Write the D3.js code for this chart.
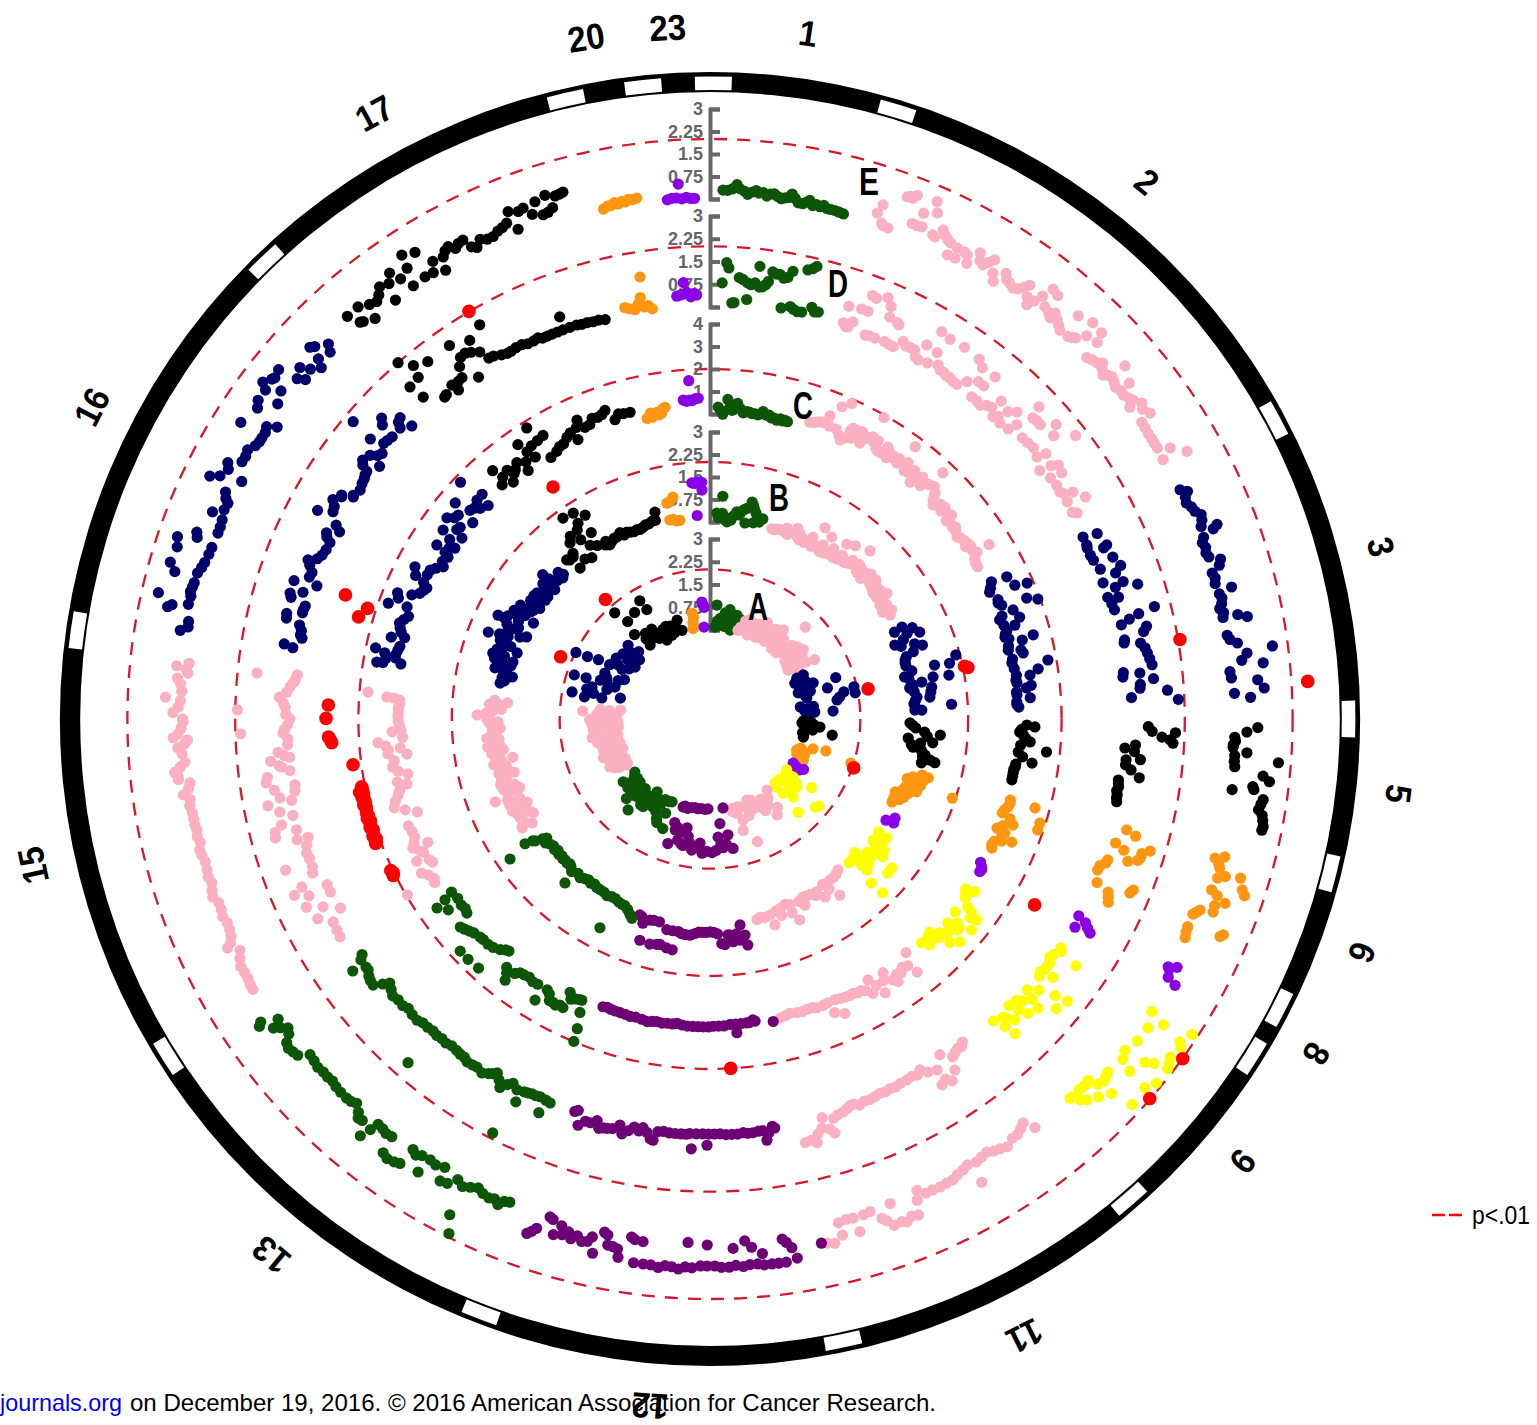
<!DOCTYPE html>
<html>
<head>
<meta charset="utf-8">
<script src="https://cdn.jsdelivr.net/npm/d3@7"></script>
<style>
  html, body { margin: 0; padding: 0; background: #fff; overflow: hidden; }
  text { font-family: "Liberation Sans", Arial, sans-serif; }
</style>
</head>
<body>
<svg class="chart"></svg>
<script>
// chromosomes clockwise round the ring, positions in ring degrees
var chromNames = ["1","2","3","5","6","8","9","11","12","13","15","16","17","20","23"];
var chromStart = [0.3,17,62,90,104,117,122,139,168,201,238,278,316,347,354];
var chromColors = ["#0d5507","#fbb0c2","#00006a","#000000","#ff9612","#8a00e6","#ffff00","#fbb0c2",
                   "#6e0076","#0d5507","#fbb0c2","#00006a","#000000","#ff9612","#8a00e6"];

var ticks3 = [0,0.75,1.5,2.25,3];
var ticks4 = [0,1,2,3,4];
var pLine = 2;

// [position, -log10 p], one line per chromosome
var trackE = [
[1.4,.3],[1.9,.3],[2.4,.35],[2.9,.5],[3.2,.38],[3.7,.3],[4.1,.2],[4.5,.28],[5,.35],[5.3,.27],[5.8,.3],[6.2,.2],[6.6,.28],[7,.3],[7.4,.23],[7.8,.17],[8.2,.22],[8.6,.25],[8.9,.38],[9.3,.25],[9.7,.12],[10.2,.12],[10.6,.2],[10.9,.27],[11.3,.12],[11.7,.18],[12.1,.13],[12.5,.2],[12.9,.12],[13.3,.12],[13.8,.12],[14.3,.1],[14.8,.08],
[18.3,.43],[18.6,.75],[19.1,.15],[19.3,.1],[19.9,.07],[20.7,1.27],[21,1.33],[21.3,1.3],[21.6,1.44],[22.2,.5],[22.7,.5],[22.9,.97],[23.3,.53],[23.7,1.5],[24.2,1.16],[24.7,.43],[25,.4],[25.5,.73],[25.9,.6],[26.4,.5],[26.8,.45],[27.1,.05],[27.7,.4],[28,.07],[28.6,.4],[29,.35],[29.4,.1],[30.1,.63],[30.5,.4],[31,.33],[31.4,.5],[31.8,.67],[32.4,.27],[32.9,.05],[33.6,.5],[34,.35],[34.5,.3],[35.1,.23],[35.6,.3],[36,.45],[36.4,.63],[36.9,.27],[37.4,.05],[37.8,.3],[38.2,.6],[38.6,1],[39.1,.37],[39.4,.93],[39.8,.3],[40.3,.2],[40.4,.43],[41,.3],[41.5,.2],[42,.1],[42.4,.87],[43.1,.13],[43.5,.2],[43.8,.27],[44,1.03],[44.5,.57],[45.4,1],[45.8,.67],[46.2,.07],[46.8,.15],[47.4,.2],[47.8,.33],[48.2,.2],[48.8,.07],[49.2,.2],[49.6,.27],[49.6,.83],[50.2,.2],[50.7,.13],[51.3,.57],[51.4,.2],[51.9,.17],[52.5,.25],[53,.33],[53.4,.1],[53.8,.5],[54.4,.4],[55.2,.53],[55.5,.13],[56.2,.12],[56.9,.1],[57.6,.1],[58.2,.1],[58.8,.1],[59.5,.47],[60.2,.07],[60.7,.9],
[64,.1],[64.5,.3],[65,.15],[65.6,.1],[66.2,.2],[66.8,.25],[67.4,.4],[68,.35],[68.6,.25],[69,.77],[69.3,.6],[69.8,.2],[70.3,.1],[70.9,.15],[71.5,.1],[72,.15],[72.6,.5],[73.2,.4],[73.8,.1],[74.4,.15],[75,.1],[75.8,.6],[76.2,.15],[76.7,.2],[77.3,.15],[77.8,.05],[78.3,.15],[78.8,.1],[79.2,.9],[78.8,.6],[80.8,.13],[81.3,.2],[81.8,.43],[82.6,1.57],[83,.7],[83.7,.5],[84.2,1.2],[84.8,.07],[85.5,.1],[85.9,.97],[86.8,1.17],[87.2,.17],[87.7,.7],
[90.9,.93],[91.4,.57],[92,.17],[92.4,.2],[92.8,.13],[93.1,.13],[93.6,.6],[94,.2],[94.6,.2],[95.2,.23],[94.4,1.67],[95.9,1.2],[96.4,1.43],[97.7,.23],[97.1,.9],[97.4,.95],[98.3,1.3],[98.8,1.25],[99.4,1.2],[99.9,1.35],[100.4,1.4],[101,1.45],[101.4,1.43],
[105.4,.13],[105,.43],[105.9,.3],[106.3,.37],[107.4,.4],[107,.63],[106.7,1.13],[107.8,1.3],[108.3,1.43],[108.8,.33],[109.2,.57],[109.7,.9],[110.3,.6],[111,.63],[111.3,.2],[111.7,.1],[112,.03],[112.8,1.23],[113.1,1.15],[113.5,.03],[114.1,.05],[114.7,.1],
[118.4,.03],[118,.3],[118.6,.1],[119.4,.2],[119.8,.53],
[123.5,.33],[124,.9],[125.2,.53],[127,.5],[128.6,.37],[129.5,.5],[130,.93],[128.3,1.13],[127.8,1.4],[126.3,1.7],[126.9,1.8],[127.4,1.87],[124.5,1.67],[124.9,1.8],[123.2,1.87],[131.6,.4],[132.1,.45],[132.6,.5],[133.3,.43],[133.7,.1],[134.1,.15],[134.6,.13],[135.1,.1],[136.5,.1],[136.2,.12],[135.8,.37],[135.3,.53],[134.2,.73],[133,.97],[130.3,1.67],[129.2,1.87],[132.4,1.73],
[141.5,.07],[142.2,-.3],[142.8,-.2],[143.5,-.1],[144.2,-.1],[145.2,.03],[146,-.05],[146.7,-.1],[147.4,-.2],[148.2,-.15],[149,-.1],[149.6,.57],[150,-.17],[150.7,-.1],[151.5,-.05],[152.2,.03],[153,.03],[153.8,.05],[154.7,.03],[155.5,.03],[156.3,-.17],[156.7,.13],[157.2,.6],[157.9,.55],[158.6,.67],[159.1,.6],[159.6,-.1],[160,.63],[160.6,.4],[161,.27],[162,-.07],[162.8,-.03],[163.7,.47],[164,-.03],[164.8,-.05],[165.6,.43],[165.7,0],[166.6,.63],[167.4,.57],[168,.53],
[199.6,.87],[199.2,.75],[198.8,.6],[197.8,.1],[197.4,.15],[196.9,.63],[196.3,.27],[196,.55],[195.4,.4],[195,.6],[194.4,.45],[193.8,.6],[193.2,.55],[192.8,.37],[192.4,.9],[191.6,.13],[191.2,.2],[191,.53],[190.4,.55],[189.9,.6],[189.7,.87],[188.6,.13],[188.2,.2],[188,.97],[187.3,.23],[187,.97],[186.2,.97],[185.4,1.03],[184.7,.95],[184,.97],[183.3,1.03],[182.4,.13],[182.6,.95],[181.9,.97],[181,.9],[180.3,.2],[180.3,.9],[179.5,.9],[178.8,.95],[178,.95],[177.5,.33],[177.3,.9],[176.5,.95],[176.2,.1],[175.8,.9],[175.5,.33],[175,.9],[174.4,.57],[174.3,.95],[173.5,.95],[172.8,.95],[172.1,.17],[172,.95],[171.7,.3],[171.2,.5],[170.8,.87],
[236,.73],[235.7,.85],[235.2,.2],[234.7,.5],[234.3,.3],[233.8,.1],[233.2,.2],[232.6,.43],[232,.5],[231.4,.45],[230.8,.4],[230,.07],[229.2,.1],[228.4,.15],[227.6,.12],[226.9,.13],[226.2,.1],[225.5,.15],[224.7,.17],[223.8,.17],[223.2,.15],[222.6,.07],[221.8,.25],[221.4,.4],[220.9,.37],[220,.8],[219.6,.43],[219.3,.13],[218.6,.15],[218,.2],[217.3,.17],[217,.77],[216.3,.85],[215.5,.8],[214.9,.73],[214.6,.1],[214,.2],[213.4,.1],[212.8,.63],[212.4,.07],[211.6,.12],[210.6,.03],[210.3,.5],[209.5,.45],[208.7,.17],[207.9,.3],[207.7,1.33],[206.9,1.9],[207.1,.2],[206.3,.1],[205.6,.2],[204.8,.25],[204.2,.2],[203.6,.33],[203.1,.15],[202.5,.1],
[275.7,.53],[276.1,.13],[275.4,.2],[275,.13],[274.4,.47],[273.8,.35],[273,.3],[272.3,.83],[272,.33],[271.3,.4],[270.7,.57],[270,.25],[269.7,.23],[269,.3],[268.4,.4],[268,.57],[267.7,.1],[267.3,.2],[266.9,.43],[266.2,.3],[265.3,.23],[264.8,.4],[264.3,.6],[263.9,.5],[263.5,.5],[263,.13],[262.4,.2],[261.8,.4],[261.2,.2],[260.5,.25],[259.7,.2],[259,.2],[258.4,.2],[257.8,.17],[257.1,.2],[256.4,.15],[255.6,.23],[255,.2],[254.2,.15],[253.3,.17],[252.5,.2],[251.8,.15],[251,.22],[250.3,.27],[249.5,.15],[248.7,.15],[247.9,.2],[247.1,.13],[246.3,.15],[245.6,.2],[244.6,.47],[245,.3],[243.8,.13],[243,.25],[242.2,.35],[241.4,.33],[240.7,.33],[240,.37],[239.4,.37],
[279.5,.57],[280,.33],[280.6,.35],[281.7,1.13],[282,1],[282.4,.47],[282.9,1.53],[283.3,.45],[283.8,.5],[284.3,.47],[284.8,.45],[285.4,1.17],[285.9,.43],[286.2,1.4],[286.6,.35],[287.2,.3],[287.9,1.33],[288.2,.25],[288.9,1.43],[289,.23],[289.5,.8],[290,.87],[290.7,.2],[291.4,.2],[292.2,.23],[292.6,.63],[293.3,.3],[294.1,.27],[294.5,.4],[295.1,.5],[295.9,1.2],[296.4,.9],[296.9,.17],[297.4,.75],[298,.87],[298.8,.47],[299.5,.45],[300.2,.5],[301,.35],[301.6,.3],[302.1,.3],[302.3,1.17],[302.8,.3],[303.4,.37],[304,.07],[304.5,.97],[305.2,1.1],[306.1,.5],[306.5,1.1],[307,1.33],[307.4,.67],[307.8,1.15],[308.1,1.1],[309,1.17],[309.5,.5],[310,.27],[310.6,.67],[311.2,.37],[312.1,.13],[312.6,.4],[312.9,.87],[313.3,.77],[314,.27],[314.5,.5],
[318,.73],[318.6,.3],[318.9,.25],[319.5,.73],[320.1,.07],[320.6,.55],[321.4,.47],[322,.6],[322.6,.8],[323.1,.13],[323.6,.7],[324.3,.97],[324.9,.6],[325.6,.17],[326.1,.77],[326.4,1.23],[327.2,.2],[327.7,1.07],[328.2,.17],[328.8,.5],[329.5,.03],[330,.45],[330.5,.6],[331,.67],[331.6,.5],[332.1,.6],[332.7,.63],[333.2,.3],[333.7,.2],[334.4,.4],[335.1,.3],[335.8,.3],[336.5,.4],[337.1,.45],[337.7,.53],[338.3,.87],[338.6,.2],[339.3,.75],[339.9,.8],[340.6,.5],[341.3,.87],[341.7,.37],[342.3,.4],[342.5,.97],[342.9,.5],[343.5,.85],[344.4,.9],[344,.87],
[348.2,.03],[348.7,.1],[349.1,.1],[349.5,.17],[349.9,.1],[350.3,.17],[350.7,.13],[351.1,.2],[351.5,.17],[352,.2],
[355.3,.03],[355.8,.07],[356.3,.07],[356.6,.53],[356.9,.03],[357.4,.07],[357.9,.03],[358.3,.03]
];
var sigE = [[86.4,2.63],[125.7,2.07],[130.8,2.03]];

var trackD = [
[2.1,1.47],[2.4,1.3],[1.6,.8],[3,.15],[3.3,.17],[3.8,1],[4.3,.95],[4.9,.85],[5,.3],[5.4,.8],[5.9,.87],[6.3,1.43],[6.5,.75],[6.9,.77],[7.3,.85],[7.6,.97],[8,1.3],[8.5,1.25],[9,1.25],[9.5,1.15],[9.8,.17],[10,1.2],[10.5,1.43],[11,.27],[11.5,.2],[12.1,.15],[12.3,1.57],[12.7,.17],[12.9,1.65],[13.3,1.75],[13.9,.4],[14.4,.27],[14.9,.3],
[18.6,.2],[18.6,.77],[19.1,.1],[19.4,.13],[19.8,.33],[20.3,.83],[21,1.37],[21.2,.83],[21.6,1.33],[22,.07],[22.6,.1],[22.9,1.5],[23.4,.1],[23.7,1.27],[24.1,.93],[24.8,.13],[25.6,.83],[25.3,.87],[25.5,.1],[26.2,.1],[27.1,.4],[27.7,.3],[28.3,.33],[29,.33],[29.5,.15],[30.1,.1],[30.1,.67],[30.9,1.3],[31.4,.17],[31.8,.63],[32.3,1.23],[32.8,.3],[33.4,.2],[34,.2],[34.4,1.27],[34.6,.15],[35.1,.17],[35.7,.13],[36.4,.13],[36.8,1.23],[37.3,.4],[37.8,1.07],[38.5,.63],[39.1,.1],[39.4,.63],[39.8,1.1],[40,.1],[40.7,.07],[41.4,.2],[42.1,.27],[42.5,.63],[43.1,.07],[43.6,.2],[44.1,.53],[44.4,.07],[45,.73],[45.8,.13],[46.2,.43],[46.5,1.37],[47,.97],[47.6,1],[48,.27],[48.3,1],[49,.3],[49.6,1.4],[50,.33],[50.5,1.1],[51.3,.23],[51.7,.53],[52.2,1.67],[53,.03],[53.4,.43],[53.9,.63],[54.7,.17],[55,.57],[56,.2],[57,.17],[57.5,.25],[58,.53],[58.7,.2],[59.4,.8],[60.3,.17],[60.7,.3],
[64,.1],[64.4,.57],[65.2,.1],[65.6,.07],[66.3,.7],[66.5,.57],[66.7,.07],[67.5,.1],[68.1,.73],[69,.2],[69.5,.87],[70.2,.63],[70.9,.13],[71.6,.77],[72,.47],[72.5,1.2],[73,.13],[73.4,.47],[74,.2],[74.9,.23],[75.8,1.53],[76.2,.97],[76.6,.63],[77.1,.33],[78,1.13],[78.6,1],[79.2,.33],[79.6,.3],[80,.83],[80.7,.95],[81.4,1],[82.2,1.05],[83,1.1],[83.6,.13],[83.9,.67],[84.2,.1],[84.8,1.1],[85.4,.65],[85.9,.63],[86.4,1.53],[87.1,.33],[87.6,1.87],
[91,.87],[91.6,1],[92.3,1.33],[91.7,1.77],[93,1.7],[92.6,1.6],[93.5,.47],[94,.13],[94.4,.45],[95.4,.67],[95.6,.2],[96.3,.2],[96.9,.4],[97.8,.7],[98.5,.03],[99,.05],[99.5,.07],[100,.03],[100.5,.07],[101,.07],[101.5,.1],
[104.9,.63],[105.4,.97],[107,.4],[107.6,.73],[106.7,1.57],[107.3,1.33],[107.9,1.33],[108.3,1.27],[108.8,.97],[109.5,.33],[110,.3],[110.6,.15],[111.3,.13],[112,1.47],[112.5,1.4],[112.9,.27],[113.5,.73],[114.1,.8],[114.7,.87],
[118.1,.2],[118.5,.5],[119.4,.8],[119.7,.27],[119,.65],
[123.1,.23],[123.5,.3],[124,.97],[124.4,.15],[125,.1],[125.6,.2],[126.2,.2],[126.8,.2],[127,.57],[127.5,.13],[128,.2],[128.3,1.43],[128.7,1],[129.5,.47],[129.9,1.3],[130.5,.17],[131,.5],[131.4,.83],[132,.3],[132.5,.13],[132.8,.7],[133.3,.4],[133.8,.07],[134.6,.53],[135.2,.3],[135.5,.2],[135.9,.87],[136.2,.47],[136.8,.07],
[142,-.07],[142.5,.03],[143,0],[143.6,.05],[144.3,.13],[145.1,.53],[145.6,-.17],[146.2,.77],[146.8,.6],[147.1,.2],[147.6,.7],[148.3,.1],[149.1,-.1],[149.8,0],[150.6,-.05],[151.4,-.03],[152.4,-.03],[153.2,0],[154,-.03],[154.8,0],[155.6,-.03],[156.4,0],[157.2,.03],[158,0],[158.8,.07],[159.5,-.03],[160,-.03],[160.6,.03],[161.3,.1],[162.1,.13],[162.8,.2],[163.2,.67],[163.7,.5],[164.3,.07],[164.7,.4],[165.4,.55],[165.8,.83],[166.5,.7],[167.3,.73],
[199,.1],[198.6,.03],[198,.5],[197.2,.3],[196.5,.3],[195.7,.17],[195.2,.4],[194.6,.35],[194.1,.33],[193.4,.3],[192.5,.13],[192,.4],[191.2,.25],[190.5,.1],[189.8,.2],[189.3,.07],[188.7,.2],[188.1,.4],[187.7,.43],[187.2,.13],[186.4,.1],[185.6,.13],[184.8,.13],[184,.13],[183.3,.13],[182.8,.1],[182.5,.6],[181.9,.1],[181,.1],[180.4,.47],[180.2,.1],[179.4,.1],[178.6,.1],[177.8,.13],[177,.13],[176.2,.13],[175.4,.1],[174.8,.13],[174.1,.13],[173.3,.1],[172.7,.1],[172.3,.43],[171.9,.2],[171.3,0],[171,.07],
[235.9,.27],[235.4,.4],[234.8,.83],[234.2,.4],[233.7,.4],[233,.5],[232.4,.55],[231.7,.57],[231,.3],[230.5,.1],[229.7,.2],[228.9,.3],[228,.25],[227,.27],[226.2,.2],[225.2,.25],[224.2,.27],[223.4,.2],[222.5,.2],[221.6,.17],[221.3,1.5],[220.8,.2],[220,.17],[219.2,.2],[218.3,.15],[217.4,.17],[216.7,.2],[216,.2],[215.3,.27],[214.5,.25],[213.8,.23],[212.8,.3],[212,.2],[211.5,.13],[211,.03],[210.3,.2],[209.7,.4],[209,.2],[208.4,.07],[207.7,1.83],[207.5,.2],[206.9,.57],[206.5,.15],[206,.13],[205.4,.1],[204.8,.1],[204.2,.07],[203.5,.57],[203.3,.1],[202.6,.13],
[275.8,1.43],[276.1,.1],[275.4,.15],[275,.2],[274.4,.3],[273.6,.4],[272.9,.63],[272.2,.5],[271.6,.43],[271.1,2],[270.6,.4],[270,.27],[269.2,.35],[268.6,.45],[268.2,1.9],[268.1,.5],[267.3,.35],[266.5,.37],[265.6,.7],[265.1,.5],[264.8,.33],[264.5,.97],[263.8,.7],[263.6,.63],[263,.37],[262.5,1.13],[261.8,1.2],[261,.27],[260.7,.97],[260.2,.3],[259.6,.83],[259,.47],[258.9,1.27],[257.8,.93],[257,.53],[256.1,.97],[255.4,1.23],[255,.53],[254.7,1.27],[253.7,.6],[253.6,.23],[252.6,.35],[251.6,.43],[250.8,.4],[250.4,1.27],[249.6,.4],[248.8,.47],[247.6,.97],[247,1.3],[246.6,.17],[246.2,.87],[245.5,.17],[245,1.1],[244.1,.6],[243,.93],[242.9,.1],[241.7,.53],[240.5,.55],[239.5,.57],
[280,.67],[279.7,.37],[281.2,.13],[281.6,.2],[282.2,.2],[282.9,.3],[283.4,.77],[284,.8],[284.6,.3],[285,.3],[285.6,.27],[286.2,.8],[286.7,.87],[287.3,.47],[288.4,.87],[288.7,.1],[289.5,.43],[290.2,.4],[291,.55],[291.6,.67],[292.2,.4],[292.9,.3],[293.8,.25],[294.9,.23],[295.4,.4],[295.9,.47],[296.8,.1],[297.4,.3],[298,1.07],[298.8,.6],[299.5,.65],[300.2,.8],[301.1,.6],[301.3,.63],[301.9,.27],[302.1,.3],[303.2,.2],[304.1,.27],[304.8,.3],[305.3,.35],[305.8,.37],[306.2,.6],[306.7,.7],[307.4,.13],[307.8,.6],[308.4,.4],[309,.33],[309.5,.93],[309.8,1.73],[310.2,.5],[310.8,.47],[311.6,.43],[311.9,.93],[312.5,1.1],[313.2,.43],[313.6,.6],[314.2,.67],[314.5,.2],
[317.9,1.17],[318.3,.63],[318.8,2.03],[319.5,1.23],[320,1.63],[320.5,.17],[320.9,.2],[321.7,1.43],[322.3,.33],[322.6,.07],[323.3,.3],[324,.33],[324.6,.67],[325.1,1.43],[325.4,.9],[325.9,.03],[326.2,.93],[326.9,.85],[327.6,1.2],[327.9,.7],[328.5,.37],[329.2,.35],[329.7,1.47],[330.2,.25],[331,.2],[331.6,.2],[332.4,.23],[333.3,.23],[334.1,.17],[335,.17],[335.7,.2],[336.3,.13],[337,.13],[337.7,.13],[338.5,.13],[339.3,.13],[339.5,.57],[340.3,.13],[341.3,.13],[342,.1],[342.8,.1],[343.6,.07],[344.4,.07],[345.3,.03],
[351,1.17],[351,.17],[349.6,.13],[348.3,.27],[348.9,.2],[349.9,.2],[350.6,.5],[350.2,.3],[351.5,.2],[352,.07],
[356.5,.83],[356,.43],[355.5,.4],[356.3,.45],[356.9,.5],[357.4,.35],[358.2,.4],[357.8,.45]
];
var sigD = [[80.4,2.13],[329.4,2.03]];

var trackC = [
[1.5,.31],[2,.15],[2.4,0],[3.2,.67],[3.6,.3],[4.1,.2],[4.4,.25],[5,.53],[5.6,.3],[6.2,.13],[6.8,.2],[7.3,.2],[7.8,.15],[8.4,.15],[9,.13],[9.8,.31],[10.4,.18],[11,.2],[11.5,.1],[12,.12],[12.6,.05],[13.2,.15],[13.7,.08],[14.1,.13],[14.6,.1],
[18.6,.36],[19.3,.4],[20,.5],[20.6,.55],[21.1,.55],[21.6,.93],[22.2,.5],[22.9,1.51],[23.5,.5],[24.2,1.82],[24.4,.3],[25,.13],[25.6,.3],[26.2,.85],[26.6,.4],[27,.84],[27.6,.84],[28,.65],[28.5,.4],[29,.7],[29.4,.8],[30,.93],[30,1.91],[30.5,.75],[31.2,.9],[31.5,.55],[32,.5],[32.6,.49],[33.2,.89],[33.8,.75],[34.5,.58],[35,.7],[35.6,.6],[36.1,.53],[36.6,.7],[37,1.6],[37.7,.84],[38.2,.6],[38.8,.5],[39.5,.75],[40.2,.22],[40.8,.55],[41.3,.76],[42,.6],[42.5,.65],[43.4,1.51],[44,.8],[44.9,.62],[45.5,.35],[46.2,.18],[47,.45],[48,.5],[49,.4],[49.8,.5],[50.5,.25],[51.8,.18],[52.6,.2],[53.6,.09],[54.3,.2],[55,.25],[55.7,.31],[56.4,.35],[57.2,.3],[58,1.07],[58,.44],[58.8,.2],[59.6,.13],[60.4,.13],
[26,.7],[28,.9],[31,.7],[33,.6],[34,.45],[36,.75],[38,.45],[40,.5],[42,.4],[43,.7],[45,.55],[46.8,.4],[48,.25],[50,.15],[52,.3],[54,.15],[56,.15],
[64,.36],[64.4,1.07],[65,.2],[65.6,.09],[66.3,1.24],[66.8,1.78],[67.5,.3],[68.1,.25],[68.7,.36],[69.1,1.51],[69.9,1.96],[70.2,.76],[70.6,.2],[71.1,.05],[71.8,.93],[72.3,.15],[72.9,.62],[73.5,.2],[74,.1],[74.5,.05],[75,.2],[75.4,1.29],[75.8,.76],[76.3,.1],[77,.05],[77.5,.6],[78.1,.67],[78.8,.15],[79.5,.09],[80.1,1.69],[80.6,.15],[81.3,1.2],[81.9,.2],[82.2,.8],[82.8,.15],[83.3,.18],[84,.8],[84.4,.58],[85,.12],[85.5,.13],[86.2,.71],[86.8,.1],[87.3,.1],[87.8,.18],
[91.1,.53],[91.4,.89],[91.9,.3],[92.4,.22],[93,.4],[93.5,.5],[94.1,.71],[94.8,.3],[95.6,1.47],[96.1,.22],[96.9,.44],[97.8,.89],[98.4,.18],[98.9,.18],[99.4,.13],[100,.13],[100.7,.13],[101.4,.13],
[105.1,.27],[105.3,1.42],[105.7,.3],[106.4,.25],[107.1,.15],[107.5,1.82],[107.8,.09],[108.7,1.82],[108.4,.5],[109.3,.71],[110,.3],[110.8,.09],[111.2,.5],[111.7,.4],[112.2,.93],[112.7,.5],[113.3,.2],[114,.15],[114.6,.22],
[117.9,.05],[118.6,.2],[119.5,.22],[119,.25],
[123.1,.49],[123.6,.09],[124.4,.2],[125,.3],[126.1,.62],[126.5,.9],[127,1.29],[127.4,1],[128.2,.31],[128.9,1.38],[129.5,.7],[130,.9],[130.5,.89],[130.6,.36],[131.2,.6],[131.7,1.33],[132.3,.7],[132.9,.4],[133,1.02],[133.7,.5],[134.1,.05],[134.8,.12],[135.3,.4],[135.8,.44],[136.6,.13],
[140,0],[140.7,.98],[141.3,.5],[142.3,.4],[143,.55],[143.8,.5],[144.4,.8],[145,.6],[145.7,.09],[146.4,.4],[147.4,.89],[148,.4],[148.8,0],[149.3,.62],[150.2,.35],[151,.25],[151.6,.27],[152.4,.2],[153.2,.22],[154.1,.18],[155,.15],[155.4,.84],[156,.1],[157,.62],[157.5,.1],[158.4,.13],[159.7,.13],[160.5,.05],[161.5,.05],[162.5,.08],[163.5,.05],[164.8,0],[165.8,.05],[166.8,.1],[168.2,.18],
[200.4,.09],[199.6,.05],[198.8,.08],[198,.09],[197,.09],[196,.1],[195,.13],[194,.1],[192.8,.13],[191.7,.18],[190.8,.13],[190,.1],[189,.13],[188,.1],[187,.1],[186.2,.05],[185.2,.1],[184.2,.13],[183.2,.13],[182.2,.13],[181.3,.13],[180.3,.13],[179.4,.1],[178.4,.1],[177.4,.1],[176.2,.05],[175.1,.44],[175.2,.05],[174.2,.05],[173.2,.05],[172.6,.05],[171.9,-.05],[171.5,.02],
[236.2,.27],[235.7,.7],[235.3,1.2],[234.6,.2],[233.9,.84],[233.2,.25],[232.3,.2],[231.4,.27],[230.2,.89],[229.4,.8],[228.6,.7],[227.8,.6],[227.1,1.6],[226.5,.53],[225.8,.5],[225.2,1.6],[224.6,.5],[223.5,.44],[222.9,1.56],[222.3,.3],[221.5,.15],[220.9,.09],[219.3,.71],[218.7,.9],[218.1,1.2],[217.5,.7],[216.8,.53],[216,.5],[215,.45],[214,.53],[213,.5],[211.9,1.16],[211,.49],[210.3,.6],[209.7,.85],[209,.84],[208.4,.9],[207.7,.8],[207.1,.09],[207,.84],[206.4,.35],[205.7,.25],[205,.2],[204.5,.18],[203.9,.71],[203.2,1.42],[202.9,2],
[274.5,1.69],[273.8,.53],[273.9,.84],[273.5,.27],[272.8,.25],[272,.3],[271.2,.3],[270.4,.31],[269.6,.3],[268.8,.25],[268,.2],[267.7,.58],[266.6,.13],[265.9,1.24],[265.2,.9],[264.7,.27],[264.5,.8],[263.8,.85],[263.4,0],[262.5,.6],[261.4,.71],[260.5,.5],[259.7,.09],[258.6,.62],[257.9,.22],[257,.6],[256.3,.71],[255.3,.9],[254.3,1.02],[253.4,.58],[252.4,.09],[250.5,.67],[249.3,.6],[248.2,.58],[247.3,.7],[246.5,.84],[246.4,.13],[245.5,.6],[245.1,.49],[244.1,.93],[243.4,.4],[242.7,.31],[241.9,.98],[241,.75],[240,.6],[239.3,.67],[239.8,2],
[282,1.64],[281.5,1.2],[281,.7],[280.6,1.1],[279.7,1.47],[279.8,1.2],[280.1,.4],[281.5,.71],[282.4,.65],[283.2,.6],[284.4,1.07],[284.9,.49],[285.7,.7],[286.4,.8],[287.2,.89],[288,.75],[288.8,.6],[289.8,1.64],[290.3,.8],[291.2,1.3],[292,1.42],[292.6,.8],[293.4,.5],[294.2,.4],[294.8,.31],[295.5,.55],[296,1],[297.3,1.2],[297,.55],[298,.53],[298.8,.35],[299.7,.09],[300.5,.25],[301.7,.13],[302.2,.36],[302.5,.84],[303.2,.3],[303.8,.09],[304.6,.5],[305.3,.98],[306.1,.09],[306.8,.5],[307.4,1.16],[307.5,.44],[308.2,.9],[309,.84],[309.6,.13],[310.3,1.29],[311,.58],[311.8,.5],[312.5,.3],[313.2,.65],[313.5,1.73],[313.9,.13],[314.6,.67],
[318.4,.36],[318.8,1.11],[319.4,.6],[320.3,.13],[320.8,.71],[321.4,.4],[322,.5],[323,.71],[323.8,.13],[324.4,.5],[325,1.33],[325.6,.84],[326.3,.44],[326.8,.95],[327.8,1.73],[328.2,1],[328.7,.05],[329.5,1.07],[330.2,.15],[331.1,.27],[332,.3],[333.1,.49],[334,.6],[334.7,.18],[335.4,.7],[336,.98],[336.8,.55],[337.8,.58],[338.6,.8],[339.6,.75],[340.4,.8],[341.2,.93],[342.4,.4],[343.3,.6],[344.2,.55],[345.4,.53],
[348.2,.09],[348.8,.2],[349.5,.2],[350.2,.27],[350.9,.3],[351.4,.4],[351.8,.44],[349.2,.1],[349,.3],[350.5,.15],[351,.2],
[356.4,1.51],[355.2,.67],[355.8,.6],[356.3,.65],[356.8,.62],[357.4,.7],[357.9,.71]
];
var sigC = [[119.8,3.07],[176.6,2.0],[288.8,3.56],[287.9,2.44],[286.2,2.71],
[272.1,3.42],[270.1,3.51],[267.3,3.42],[266.9,3.35],[266.4,3.29],[262.7,2.44],
[259,2.22],[258.6,2.2],[258.2,2.35],[257.8,2.2],[257.3,2.3],[256.9,2.22],[256.5,2.2],[256,2.3],[255.6,2.22],[255.2,2.25],[254.7,2.27],[254.2,2.22],[253.8,2.3],[253.3,2.2],[252.8,2.25],[252.3,2.3],[251.8,2.2],[251.3,2.25],[250.8,2.3],[250.3,2.2],[249.8,2.25],[249.6,2.3],
[244.6,2.15],[244.1,2.09],[243.7,2.15]];

var trackB = [
[1.9,.3],[2.4,.15],[3.3,.87],[3.5,.3],[4.1,.1],[4.9,.03],[5.4,.15],[6,.1],[6.6,.25],[7.4,.4],[8,.3],[8.5,.4],[9.2,.5],[9.8,.55],[10.1,.07],[10.5,.6],[11,.8],[11.5,.7],[11.9,.6],[12.4,.13],[12.6,.47],[13.3,.3],[14,.2],[14.8,.33],
[18,.1],[18.8,.1],[19.6,.15],[20.4,.17],[21.2,.15],[22,.2],[22.7,.1],[23.5,.2],[24.7,.43],[25.6,.17],[26.4,.1],[27.2,.2],[28,.1],[28.7,.2],[29.5,.4],[30.3,.1],[31,.87],[31.6,.2],[32.3,.2],[32.9,.1],[33.8,.73],[34.2,.13],[35,.2],[35.7,.2],[36.4,.3],[37.2,.2],[38,.83],[38.6,.25],[39.3,.3],[40,.97],[40.6,.3],[41.3,.37],[42,.4],[42.8,.45],[43.6,1.17],[44.4,.4],[45,.55],[45.8,.5],[46.4,.5],[47.1,.57],[48,.5],[49,.5],[49.8,.4],[50.6,.4],[51.4,.35],[52.3,.3],[53,.55],[53.8,.3],[54.6,.67],[55.4,.4],[56.2,.25],[57,.3],[58.3,.2],[59,.35],[60,.37],
[22,.3],[26,.3],[30,.25],[33,.35],[36,.45],[39,.45],[42,.55],[45,.35],[48,.65],[51,.55],[54,.4],[57,.45],[59,.5],[44,.6],[47,.3],[50,.65],
[64.4,.53],[64.8,.23],[65.7,.83],[66.5,.6],[67.5,1],[67.7,.4],[68.2,.07],[69.2,.25],[69.8,.7],[70.8,.93],[71.7,.57],[72.4,.3],[73.2,.23],[74,.2],[74.8,.2],[75.4,1.9],[76.5,1.13],[76.9,1.63],[76.6,.35],[77.8,.07],[78.6,.2],[79.3,1],[79.6,1.53],[80.1,.6],[80.5,.3],[81.2,.17],[81.8,.9],[82.4,.3],[83,.85],[84,.37],[84.3,.8],[85,.3],[85.8,.25],[86.5,1.5],[87,.3],[87.5,.27],[87.6,.5],
[91.1,.1],[91.8,.2],[92.5,.3],[93.5,.6],[94,1.13],[94.6,.7],[95.5,.07],[96.1,.9],[96.5,.5],[97.2,.2],[97.9,.27],[98.4,.55],[99,.6],[99.5,.7],[100.1,.63],[100.6,.9],[101,1.07],[101.7,.63],
[105.1,.97],[105.9,.47],[106.4,.5],[107,.55],[107.6,.45],[108.1,1.93],[108.6,.4],[109.2,.33],[109.4,.73],[110,.3],[110.6,.25],[111.5,.07],[112.3,.15],[113.3,.1],[114.5,.1],[106,.85],[107.5,.8],[108,.7],[109,.55],[110.5,.5],[112,.4],[106.8,.3],[104.8,.75],[113,.3],
[118.2,.43],[119.5,.47],[119.9,.2],
[123.8,.2],[123.9,.53],[124.8,.3],[125.7,.3],[126.6,.2],[127.6,.4],[128.6,.8],[129.3,1.27],[129.5,.5],[130.3,.3],[130.9,1.27],[131.3,.3],[132,.3],[132.7,0],[133.4,.3],[133.9,.7],[134.6,.1],[135.2,1.6],[135.5,1.1],[136,.1],[125,.5],[127,.7],[128,.5],[131,.5],[132.5,.6],[134,.45],
[139.7,.03],[141,.1],[142,.13],[143.3,.13],[143.6,.73],[144.6,.15],[145.8,.1],[147.1,.5],[148.4,.2],[150.4,.17],[151.4,.15],[152.6,.13],[154,.2],[155.9,.77],[156.7,.17],[158,.1],[159.6,.17],[161,.2],[162.5,.63],[163,.27],[164.6,.3],[165.8,.25],[166.8,.3],[145,.35],[149,.3],[153,.4],[157,.45],[160,.4],
[199.7,.37],[199,.4],[198.2,.6],[197.6,1.17],[196.6,.43],[195.6,.4],[195,1.2],[194,.4],[193.3,1.15],[192.5,1.13],[191.6,.6],[190.8,1.2],[190,.6],[189.3,1.23],[188.4,.6],[187.6,.65],[186.5,.67],[185.3,.67],[184,.6],[183,.55],[182,.55],[181,.55],[180,.53],[179,.55],[178,.6],[177,.93],[176.2,.97],[175.2,.65],[174.7,.67],[174,.9],[173,.65],[172.2,.87],[171.7,.37],[170.8,.73],[170.5,1.07],
[236,.87],[235.5,.6],[235.1,.53],[235,1.57],[234.4,.3],[233.9,.17],[233,.3],[232,.2],[231,.15],[230,.2],[229.2,.13],[228.2,.2],[227.3,.15],[226.5,.2],[225.8,.17],[224.8,.2],[224,.15],[223.2,.2],[222.2,.3],[221.5,.73],[220.5,.2],[219.3,.27],[218.2,.2],[217,.15],[216,.2],[215,.15],[214,.2],[212.8,.2],[211.5,.2],[210.2,.25],[209,.2],[207.8,1.3],[207.8,.2],[206.5,.25],[205.4,.27],[204.6,.27],[203.4,.35],[202.3,.47],[201.4,.57],
[275,.63],[274.6,.2],[274,.5],[273.3,.6],[272.6,.4],[272,.7],[271,1.2],[270.4,.8],[270,.87],[269.2,.5],[268.4,.5],[267.5,.43],[266.8,.7],[266,.6],[265.3,.8],[264.5,.5],[263.6,.6],[262.8,.9],[262,.6],[261.6,.4],[260.8,.53],[260,.7],[259,.13],[258.4,.5],[257.6,.7],[257,.4],[256.3,.63],[255.5,.7],[254.8,.2],[254,.5],[253.2,.7],[252.4,.5],[251.6,.3],[250.8,.5],[250.3,.17],[249.6,.6],[248.9,1.1],[248.2,.7],[247.5,.3],[246.7,.7],[246,.35],[245.6,.13],[245,.7],[244.2,.3],[243.4,.5],[242.7,.57],[242,.1],[241.2,.5],[240.5,.6],[239.9,.67],[239.7,.3],
[273.8,.8],[271.5,.9],[269,.8],[268,.7],[265,.9],[263,.5],[261,.8],[259.5,.55],[258,.8],[256,.4],[254.5,.65],[252.5,.75],[251,.7],[249.5,.3],[247,.5],[244,.6],[243,.2],
[279.7,.53],[280.5,.4],[281.2,.5],[282,.17],[282.8,.5],[283.4,.8],[284.2,.7],[285,.6],[285.8,.9],[286.1,.27],[286.9,1],[287.5,.85],[288.2,.9],[288.9,.23],[289.5,.7],[290,.8],[290.6,.9],[291.4,1.37],[292.2,.7],[293.3,.33],[294.1,.13],[294.8,.6],[295.4,.5],[296.1,1.3],[296.2,1.07],[297,.6],[298,.67],[298.5,.13],[299.2,.5],[300,.6],[300.8,.4],[301.5,.35],[302.1,.5],[302.8,.47],[303.5,.6],[304.3,.4],[305,.4],[305.8,.2],[306.1,.57],[306.8,.45],[307.6,.3],[308.4,.35],[309,.35],[309.8,.17],[310.8,.8],[311.4,.4],[312.2,.3],[313,.3],[313.8,.23],[314,.47],[314.6,.3],
[283,.4],[285,.3],[287,.6],[290,.5],[292,1],[293,.8],[295,.9],[297,1],[299,.9],[301,.8],[303,.2],[305,.6],[307,.2],[309,.6],[311,.55],
[318,.57],[318.6,.5],[319.3,.07],[319.8,.5],[320.4,.6],[321.5,.93],[322,.2],[322.6,1.1],[323.8,1.73],[323.8,.1],[324.2,.8],[324.9,1.13],[325.4,.47],[326,1.3],[326.4,1.67],[327,.33],[327.5,.8],[328.5,1.4],[329,.2],[329.6,.3],[330.1,.13],[331,.2],[332,.25],[333,.25],[334.2,.33],[335,.2],[336,.25],[337,.2],[338,.17],[339,.2],[339.7,.17],[340.7,.2],[341.6,.25],[342.6,.25],[343.6,.3],[344.6,.3],[345.1,.57],
[348.7,.77],[349.5,.8],[350.5,.93],[348.6,.2],[349.5,.2],[350.4,.13],[351.4,.13],
[355.6,1.33],[356.2,1.3],[356.9,1.35],[357.5,1.3],[358,1.33],[358,1.07],[356.4,.23]
];
var sigB = [[78.7,2.2],[78.3,2.1],[325.9,2.77]];

var trackA = [
[3,.1],[3.5,.83],[4.2,.3],[5,.15],[5.8,.4],[6.6,.2],[7.6,.3],[8.2,.6],[9,.15],[10.4,.73],[10.8,.35],[11.6,.5],[12.7,.07],[13.2,.4],[14,.25],[14.6,.6],[15.2,.4],[16,.3],[16.6,.5],
[17.5,.13],[18.4,.25],[19.5,.3],[20.6,.2],[21.8,.4],[23,.25],[24.2,.45],[25.4,.3],[26.6,.23],[27,.47],[27.8,.6],[28.6,.3],[29.6,.5],[30.7,.77],[31.4,.2],[32.4,.5],[33.6,.3],[34.6,.6],[35.6,.4],[36.6,.75],[37.5,.47],[38.3,.27],[39.4,.87],[40.2,.5],[41.2,.3],[42.4,.65],[43.6,.45],[44.8,.25],[46,1.43],[47,.55],[48.2,.3],[49.4,.6],[50.4,.8],[51.2,.33],[52.2,.6],[53.4,.9],[54.4,.5],[55.4,.75],[56.8,.63],[57.9,.1],[58.6,.3],[59.4,.75],[60.4,1.03],[61.2,.4],
[20,.5],[22,.6],[24,.1],[26,.55],[29,.15],[31,.35],[33,.65],[35,.2],[36,.5],[38,.6],[40,.75],[41,.15],[43,.5],[45,.15],[47,.3],[48,.7],[50,.55],[52,.2],[54,.35],[56,.3],[55,.15],[58,.55],
[64.7,.47],[64.8,.23],[66,.3],[67.2,.1],[68.4,.45],[69.4,.2],[70.7,.67],[71.8,1.43],[72.2,.3],[73.5,.1],[74.4,.5],[75.2,1.07],[76.2,.3],[77.4,1.93],[77.8,.33],[78.5,1.57],[79.8,1.93],[80.4,1.4],[81.5,1.3],[82.4,.07],[83,.5],[84,.3],[85,.2],[86.2,.53],[86.3,1.13],[87.2,.3],
[91,.15],[91.8,.4],[92.5,.1],[93.2,.5],[94.2,.7],[95,.35],[96.2,.47],[97.5,1.13],[98.5,.15],[100,.2],[101,.2],
[105.4,1.03],[106.2,.6],[107.4,1.93],[107.8,.2],[109,.3],[109.6,.1],[110.6,.4],[112,.15],[113,.35],[113.8,.43],
[118,.17],[118.3,.57],[119,.3],[119.8,.45],
[123.5,.1],[124,1.1],[124.9,.4],[125.8,.15],[126.6,.6],[128,.7],[128.6,1.67],[129.4,.35],[130,1.6],[130.8,.1],[131.8,.6],[133.2,.83],[134.1,.07],[135.4,.5],[136.6,1.3],[135.7,.2],
[141.2,.07],[142.7,.73],[143.8,.3],[145,.93],[146.2,.5],[147.5,.2],[148.7,.6],[150.4,.4],[152,.3],[153.5,.05],[154.6,.35],[155.5,0],[156.7,.3],[158,.5],[158.9,1.4],[160,.15],[161.9,.57],[162.5,.1],[163.4,.9],[164.2,.3],[165.5,.1],[166.5,.2],
[197,.1],[196,.05],[194,.1],[192,.05],[189.6,.03],[187.6,.05],[185.4,.03],[183.2,.05],[181.3,.03],[171.7,.03],
[198.8,.67],[198.7,1.4],[197.4,.9],[196.4,.8],[195,1.2],[194,.9],[193,1.3],[192.1,1.33],[191.9,.73],[190.5,1],[189.4,1.2],[188,1.43],[186.4,1.3],[184.6,1.17],[183.4,1.5],[181.5,1.43],[179.1,1.47],[177.2,1.4],[176.1,.97],[175,1.2],[174.6,.53],[174.2,1.33],[172.6,1.23],[171.2,.93],[169.9,1.4],
[234.8,.1],[234.1,.6],[232.6,.2],[232,.5],[230.8,.15],[230,.6],[228,.17],[227.6,.55],[226.4,.87],[225.2,.5],[224,.6],[223,.2],[222,1.1],[221.3,.33],[220,.6],[218.6,.3],[217.4,.7],[216,.03],[214.8,.45],[213,.53],[212.6,.2],[211.7,.2],[210.4,.6],[209,.1],[208.2,.8],[207.2,.9],[206,.1],[205.2,.5],[204.6,.07],[203.3,1],
[210,.3],[215,.2],[225,.3],[228.6,.4],[219,.7],
[273.6,1.27],[275.7,.03],[274.8,.4],[273.4,.37],[272.4,.8],[271.6,.15],[270.6,.6],[269.5,1.03],[268,.1],[267.2,.5],[266.2,.8],[265,.4],[264.6,.93],[263.3,.2],[262,.7],[260.7,.35],[259.7,.6],[258.5,.2],[257.4,.7],[256,.4],[255,.13],[253.8,.73],[252.8,.35],[251.4,.1],[250.3,.55],[249,.3],[247.8,.65],[246.2,.4],[244.4,.73],[243.4,.3],[241.8,.45],[241,.2],
[275,.7],[272,.5],[270,1],[268.5,.8],[267,.95],[265,.1],[263,.75],[261,1],[260,.15],[258,.85],[256,.7],[254,.3],[252,.55],[250,.8],[248,.2],[247,.55],[245,.15],[243,.6],[242,.15],[262,.45],[266,.3],[271,.3],
[283.1,.1],[281,.7],[280,1.27],[281.1,1.7],[282.4,1],[283.8,1.25],[285.2,1.1],[286,.6],[288,1.77],[288.4,1.37],[288.6,.37],[289.5,.9],[290.4,.7],[291.7,.73],[292.6,.35],[293.6,.85],[294.7,.17],[296.4,2],[297,1.6],[298,1.23],[298.4,.83],[299.4,.4],[300.6,.6],[301.8,.2],[303,.75],[304.7,.07],[305.6,.4],[306.8,.65],[308,.25],[309.2,.55],[310,.5],[310,.1],[311,.3],[312,.7],[313.4,.3],
[318.1,1.77],[319.8,1.27],[318.2,.8],[321,.2],[321.5,.45],[323,.6],[324.7,1.37],[325,.53],[326.2,.3],[327,.6],[328,.2],[329.3,1.6],[330,1.23],[330.6,.35],[331.4,.03],[332.2,.4],[333.4,.15],[334.5,.45],[335.6,.1],[336.8,.4],[338,.15],[339.2,.3],[340.4,.2],[341.6,.5],[342.5,.13],
[350.4,.6],[350.8,.45],[350,.3],[349.4,.1],[350.2,.15],
[356,.93],[356.5,.83],[357,.75],[356.3,.1]
];
var sigA = [[79.2,2.37],[108.8,2.07],[292.6,2.4],[318.8,2.3]];

// layout
var width = 1537, height = 1425;
var cx = 710, cy = 719;
var dotR = 5.6, sigR = 6.8;
var ringOuter = 647, ringInner = 627, boxOuter = 642.5, boxInner = 629, boxHalf = 1.65;
var stretchX = 1.0045; // the figure is a little wider than it is tall
var chromLabelR = [693,693,693,693,693,693,693,693,690,693,693,693,693,693,693];
var chromLabelShift = [-.5,-.4,-.4,-.8,-.8,-.6,-.8,-.5,.5,-.2,-.2,-.2,-.5,-.8,-.5];

var tracks = [
    {name: "A", points: trackA, sig: sigA, domain: [0,3], range: [89,180],  ticks: ticks3, lx: 758, ly: 620},
    {name: "B", points: trackB, sig: sigB, domain: [0,3], range: [197,287], ticks: ticks3, lx: 779, ly: 511},
    {name: "C", points: trackC, sig: sigC, domain: [0,4], range: [305,395], ticks: ticks4, lx: 803, ly: 419},
    {name: "D", points: trackD, sig: sigD, domain: [0,3], range: [412,503], ticks: ticks3, lx: 838, ly: 297},
    {name: "E", points: trackE, sig: sigE, domain: [0,3], range: [520,610], ticks: ticks3, lx: 869, ly: 195}
];

var svg = d3.select("svg.chart")
    .attr("width", width)
    .attr("height", height)
    .style("display", "block");

var angle = d3.scaleLinear().domain([0, 360]).range([0, 2 * Math.PI]);
var chromColor = d3.scaleThreshold().domain(chromStart.slice(1)).range(chromColors);

var plot = svg.append("g").attr("transform", "translate(" + cx + "," + cy + ")");
var stretched = plot.append("g").attr("transform", "scale(" + stretchX + ",1)");

// outer ring with the white chromosome marks
var arc = d3.arc();
stretched.append("path")
    .attr("fill", "#000")
    .attr("d", arc({innerRadius: ringInner, outerRadius: ringOuter, startAngle: 0, endAngle: 2 * Math.PI}));

stretched.selectAll("path.mark")
    .data(chromStart)
    .enter().append("path")
    .attr("class", "mark")
    .attr("fill", "#fff")
    .attr("d", function(d) {
        return arc({innerRadius: boxInner, outerRadius: boxOuter,
            startAngle: angle(d - boxHalf), endAngle: angle(d + boxHalf)});
    });

// chromosome names sit at the middle of their sector
plot.selectAll("text.chrom")
    .data(chromNames)
    .enter().append("text")
    .attr("class", "chrom")
    .attr("text-anchor", "middle")
    .attr("font-size", 36)
    .attr("font-weight", "bold")
    .attr("transform", function(d, i) {
        var next = i + 1 < chromStart.length ? chromStart[i + 1] : 360;
        var mid = (chromStart[i] + next) / 2;
        var p = d3.pointRadial(angle(mid + chromLabelShift[i]), chromLabelR[i]);
        return "translate(" + p[0] + "," + p[1] + ") rotate(" + mid + ") translate(0,13) scale(.92,1)";
    })
    .text(function(d) { return d; });

tracks.forEach(function(t) {
    var radius = d3.scaleLinear().domain(t.domain).range(t.range);

    stretched.append("circle")
        .attr("r", radius(pLine))
        .attr("fill", "none")
        .attr("stroke", "#d7182a")
        .attr("stroke-width", 2.3)
        .attr("stroke-dasharray", "13 10");

    // value axis on the 12 o'clock line
    var yScale = d3.scaleLinear().domain(t.domain).range(t.range.map(function(r) { return -r; }));
    var axis = d3.axisRight(yScale)
        .tickValues(t.ticks)
        .tickSize(10)
        .tickFormat(function(d) { return d === 0 ? "" : d; });
    var g = plot.append("g").call(axis);
    g.selectAll("path, line").attr("stroke", "#666").attr("stroke-width", 4);
    g.select("path.domain").attr("fill", "none");
    g.selectAll("text")
        .attr("x", -7)
        .attr("text-anchor", "end")
        .attr("fill", "#666")
        .attr("font-family", "Liberation Sans")
        .attr("font-weight", "bold")
        .attr("font-size", 18);
});

// dots go over the axes and the dashed circles
tracks.forEach(function(t) {
    var radius = d3.scaleLinear().domain(t.domain).range(t.range);
    var g = plot.append("g").attr("class", "track");

    g.selectAll("circle.dot")
        .data(t.points)
        .enter().append("circle")
        .attr("class", "dot")
        .attr("r", dotR)
        .attr("fill", function(d) { return chromColor(d[0]); })
        .attr("cx", function(d) { return d3.pointRadial(angle(d[0]), radius(d[1]))[0]; })
        .attr("cy", function(d) { return d3.pointRadial(angle(d[0]), radius(d[1]))[1]; });

    g.selectAll("circle.sig")
        .data(t.sig)
        .enter().append("circle")
        .attr("class", "sig")
        .attr("r", sigR)
        .attr("fill", "#ff0000")
        .attr("cx", function(d) { return d3.pointRadial(angle(d[0]), radius(d[1]))[0]; })
        .attr("cy", function(d) { return d3.pointRadial(angle(d[0]), radius(d[1]))[1]; });

    svg.append("text")
        .attr("x", t.lx)
        .attr("y", t.ly)
        .attr("text-anchor", "middle")
        .attr("font-size", 39)
        .attr("font-weight", "bold")
        .attr("textLength", 20)
        .attr("lengthAdjust", "spacingAndGlyphs")
        .text(t.name);
});

// legend
svg.append("line")
    .attr("x1", 1432).attr("x2", 1462)
    .attr("y1", 1215).attr("y2", 1215)
    .attr("stroke", "#ff0000")
    .attr("stroke-width", 2.4)
    .attr("stroke-dasharray", "13 4");
svg.append("text")
    .attr("x", 1472).attr("y", 1224)
    .attr("font-size", 25.5)
    .attr("textLength", 58)
    .attr("lengthAdjust", "spacingAndGlyphs")
    .text("p<.01");

// download line of the page the figure was cut from
svg.append("text")
    .attr("x", 0).attr("y", 1411)
    .attr("font-size", 24)
    .attr("fill", "#0000ee")
    .attr("textLength", 122)
    .attr("lengthAdjust", "spacingAndGlyphs")
    .text("journals.org");
svg.append("text")
    .attr("x", 130).attr("y", 1411)
    .attr("font-size", 24)
    .attr("textLength", 806)
    .attr("lengthAdjust", "spacingAndGlyphs")
    .text("on December 19, 2016. © 2016 American Association for Cancer Research.");
</script>
</body>
</html>
